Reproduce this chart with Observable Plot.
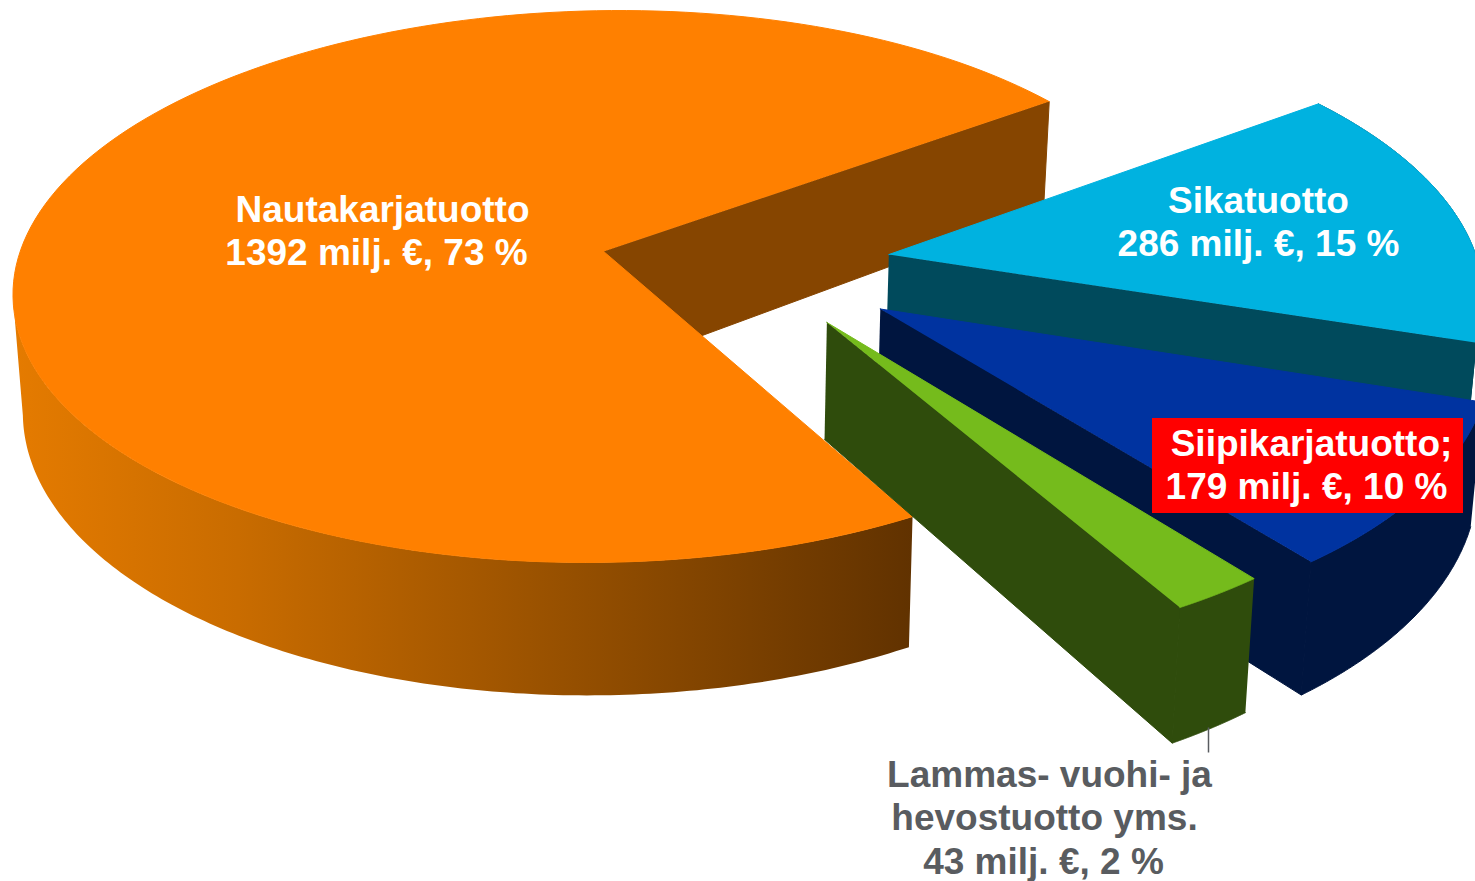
<!DOCTYPE html>
<html>
<head>
<meta charset="utf-8">
<script src="https://cdn.jsdelivr.net/npm/d3@7"></script>
<script src="https://cdn.jsdelivr.net/npm/@observablehq/plot@0.6"></script>
<style>html,body{margin:0;padding:0;background:#fff;overflow:hidden}</style>
</head>
<body>
<div id="chart"></div>
<script>
// Data
const categories = ["Nautakarjatuotto", "Sikatuotto", "Siipikarjatuotto", "Lammas- vuohi- ja hevostuotto yms."];
const values = [1392, 286, 179, 43];
const percents = [73, 15, 10, 2];

// Styles
const topColors = ["#ff8000", "#00b2e0", "#0033a0", "#75bb1c"];
const wallColors = ["url(#orangeWall)", "#004a5c", "#00153f", "#2f4c0c"];
const sideColors = ["#864500", "#004a5c", "#00153f", "#2f4c0c"];

// Layout: 3D view of the pie (disc coordinates u,v -> picture)
const view = {cx: 603, a: 583, k: -0.127, b: 239.6, c: 251, skewX: -4.35, shiftX: -2.2, skewY: -6, startDeg: 151.3, wallX: 0.985, wallShift: 1, depth: 116};
const explodeU = [0, 0.492, 0.467, 0.376];
const explodeV = [0, 0.022, 0.216, 0.261];
const hubShiftU = [0.004, 0, 0, 0];
const hubDepth = [4, 0, 0, -3];

const project = (u, v, low, extra = 0) => {
  const w = 1 + view.k * v;
  const x = (view.a * u) / w + view.skewX * v + view.shiftX;
  const y = (view.b * v + view.c) / w + view.skewY * u;
  return low
    ? {x: view.cx + view.wallShift + x * view.wallX, y: y + (view.depth + extra) / w}
    : {x: view.cx + x, y};
};

const total = d3.sum(values);
let acc = view.startDeg;
const slices = values.map((val, i) => {
  const a0 = acc, a1 = acc + (val / total) * 360;
  acc = a1;
  return {i, a0, a1};
});
const disc = (s, deg) => {
  const t = deg * Math.PI / 180;
  return [explodeU[s.i] + Math.sin(t), explodeV[s.i] - Math.cos(t)];
};
const hub = s => [explodeU[s.i] + hubShiftU[s.i], explodeV[s.i]];
const sweep = (a, b) => d3.range(0, 161).map(j => a + (b - a) * j / 160);

function topPoly(s) {
  const pts = [hub(s), ...sweep(s.a0, s.a1).map(d => disc(s, d))];
  return pts.map(([u, v]) => project(u, v, false));
}
// the rim of the big slice is only seen up to the point where the disc turns away (far left)
function rimEnd(s) {
  if (s.i !== 0) return s.a1;
  return d3.least(sweep(s.a0, s.a1), d => project(...disc(s, d), false).x);
}
function arcPoly(s) {
  const ds = sweep(s.a0, rimEnd(s));
  return [...ds.map(d => project(...disc(s, d), false)), ...ds.slice().reverse().map(d => project(...disc(s, d), true))];
}
function sidePoly(s) {
  const h = hub(s), rim = disc(s, s.a1);
  return [project(...h, false), project(...rim, false), project(...rim, true), project(...h, true, hubDepth[s.i])];
}

const poly = (pts, fill) => Plot.line(pts, {x: "x", y: "y", fill, stroke: fill === "url(#orangeWall)" ? "none" : fill, strokeWidth: 1, curve: "linear"});
const sliceMarks = slices.flatMap(s => [
  poly(arcPoly(s), wallColors[s.i]),
  poly(sidePoly(s), sideColors[s.i]),
  poly(topPoly(s), topColors[s.i])
]);

const defs = () => {
  const d = d3.create("svg:defs");
  const g = d.append("linearGradient").attr("id", "orangeWall").attr("gradientUnits", "userSpaceOnUse")
    .attr("x1", 12).attr("x2", 912).attr("y1", 0).attr("y2", 0);
  g.append("stop").attr("offset", 0).attr("stop-color", "#e57b00");
  g.append("stop").attr("offset", 0.25).attr("stop-color", "#c96c00");
  g.append("stop").attr("offset", 1).attr("stop-color", "#613200");
  return d.node();
};

const labelLines = [
  {text: "Nautakarjatuotto", x: 382, y: 210, fill: "#fff"},
  {text: "1392 milj. €, 73 %", x: 376, y: 253, fill: "#fff"},
  {text: "Sikatuotto", x: 1258, y: 201, fill: "#fff"},
  {text: "286 milj. €, 15 %", x: 1258, y: 244, fill: "#fff"},
  {text: "Siipikarjatuotto;", x: 1311, y: 444, fill: "#fff"},
  {text: "179 milj. €, 10 %", x: 1306, y: 487, fill: "#fff"},
  {text: "Lammas- vuohi- ja", x: 1049, y: 775, fill: "#595c60"},
  {text: "hevostuotto yms.", x: 1044, y: 818, fill: "#595c60"},
  {text: "43 milj. €, 2 %", x: 1043, y: 862, fill: "#595c60"}
];
const labelBox = [{x1: 1152, x2: 1463, y1: 418, y2: 513}];
const leader = [{x1: 1208, x2: 1208, y1: 727, y2: 752}];

const plot = Plot.plot({
  width: 1475, height: 881,
  marginTop: 0, marginRight: 0, marginBottom: 0, marginLeft: 0,
  x: {domain: [0, 1475], range: [0, 1475], axis: null},
  y: {domain: [0, 881], range: [0, 881], axis: null},
  style: {fontFamily: "'Liberation Sans', Arial, sans-serif", background: "#fff"},
  marks: [
    defs,
    ...sliceMarks,
    Plot.rect(labelBox, {x1: "x1", x2: "x2", y1: "y1", y2: "y2", fill: "#ff0000"}),
    Plot.link(leader, {x1: "x1", x2: "x2", y1: "y1", y2: "y2", stroke: "#595c60", strokeWidth: 1.5}),
    Plot.text(labelLines, {x: "x", y: "y", text: "text", fill: "fill", fontSize: 37, fontWeight: "bold", textAnchor: "middle", lineAnchor: "middle"})
  ]
});
document.getElementById("chart").append(plot);
</script>
</body>
</html>
